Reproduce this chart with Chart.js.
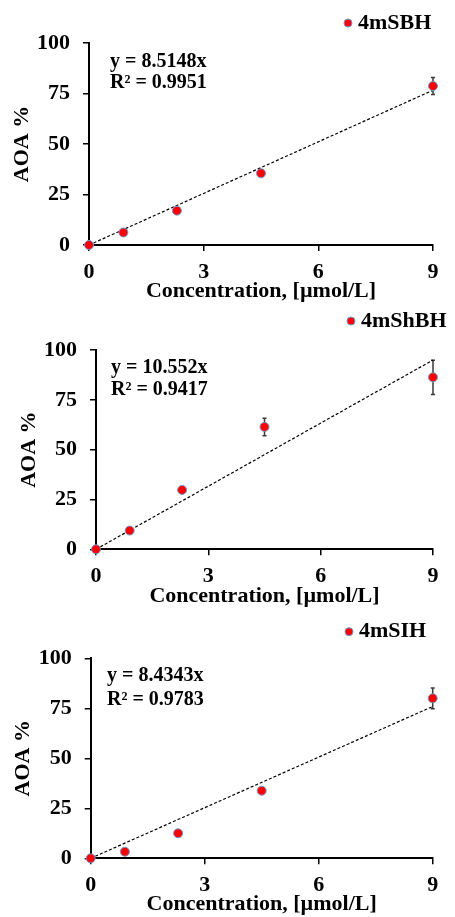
<!DOCTYPE html>
<html>
<head>
<meta charset="utf-8">
<script src="https://cdn.jsdelivr.net/npm/chart.js@4.4.0/dist/chart.umd.min.js"></script>
<style>
  body { margin: 0; background: #fff; }
  canvas { position: absolute; left: 0; }
</style>
</head>
<body>
<canvas id="c1" width="455" height="302" style="top:0px"></canvas>
<canvas id="c2" width="455" height="305" style="top:302px"></canvas>
<canvas id="c3" width="455" height="308" style="top:607px"></canvas>
<script>
// Data
const concentrations = [0, 0.9, 2.3, 4.5, 9];
const seriesNames = ['4mSBH', '4mShBH', '4mSIH'];
const aoa4mSBH = [0, 6.2, 17.0, 35.5, 78.7];
const err4mSBH = [0, 0, 0, 0, 4.2];
const aoa4mShBH = [0, 9.4, 29.8, 61.4, 86.3];
const err4mShBH = [0, 0, 0, 4.4, 8.6];
const aoa4mSIH = [0, 3.3, 12.5, 33.8, 80.0];
const err4mSIH = [0, 0, 0, 0, 5.2];
const slopes = ['8.5148', '10.552', '8.4343'];
const r2Values = ['0.9951', '0.9417', '0.9783'];
const xTicks = [0, 3, 6, 9];
const yTicks = [0, 25, 50, 75, 100];

const FONT = "'Liberation Serif', 'Times New Roman', serif";

// panel geometry, canvas-local pixels
const panels = [
    { id: 'c1', height: 302, values: aoa4mSBH, errors: err4mSBH,
      plot: { left: 89, right: 433, top: 43, bottom: 245 }, yTitlePad: 11.5,
      legend: { x: 348, y: 23 }, eq: { x: 110, y1: 62, y2: 83 } },
    { id: 'c2', height: 305, values: aoa4mShBH, errors: err4mShBH,
      plot: { left: 96, right: 433, top: 48, bottom: 247.3 }, yTitlePad: 18,
      legend: { x: 351, y: 19 }, eq: { x: 111, y1: 66, y2: 88 } },
    { id: 'c3', height: 308, values: aoa4mSIH, errors: err4mSIH,
      plot: { left: 90.7, right: 432.7, top: 51.3, bottom: 251.3 }, yTitlePad: 12.7,
      legend: { x: 349, y: 24.7 }, eq: { x: 107, y1: 69, y2: 93 } },
];

const errorBars = {
    id: 'errorBars',
    beforeDatasetsDraw(chart, args, opts) {
        const { ctx, scales: { x, y } } = chart;
        const vals = chart.data.datasets[0].data;
        ctx.save();
        ctx.strokeStyle = '#3a3a3a';
        ctx.lineWidth = 1.5;
        opts.errors.forEach((e, i) => {
            if (!e) return;
            const px = x.getPixelForValue(vals[i].x);
            const top = y.getPixelForValue(vals[i].y + e);
            const bot = y.getPixelForValue(vals[i].y - e);
            ctx.beginPath();
            ctx.moveTo(px, top); ctx.lineTo(px, bot);
            ctx.moveTo(px - 2, top); ctx.lineTo(px + 2, top);
            ctx.moveTo(px - 2, bot); ctx.lineTo(px + 2, bot);
            ctx.stroke();
        });
        ctx.restore();
    }
};

const annotations = {
    id: 'annotations',
    afterDraw(chart, args, opts) {
        const ctx = chart.ctx;
        ctx.save();
        // legend
        ctx.beginPath();
        ctx.arc(opts.legend.x, opts.legend.y, 4, 0, Math.PI * 2);
        ctx.fillStyle = '#ff0000';
        ctx.fill();
        ctx.lineWidth = 1;
        ctx.strokeStyle = '#6b9bd1';
        ctx.stroke();
        ctx.fillStyle = '#000';
        ctx.textBaseline = 'middle';
        ctx.textAlign = 'left';
        ctx.font = 'bold 22px ' + FONT;
        ctx.fillText(opts.name, opts.legend.x + 10, opts.legend.y);
        // trendline equation
        ctx.font = 'bold 20px ' + FONT;
        ctx.fillText('y = ' + opts.slope + 'x', opts.eq.x, opts.eq.y1);
        ctx.fillText('R\u00b2 = ' + opts.r2, opts.eq.x, opts.eq.y2);
        ctx.restore();
    }
};

panels.forEach((p, k) => {
    const pts = concentrations.map((c, i) => ({ x: c, y: p.values[i] }));
    const slope = parseFloat(slopes[k]);
    const xMax = xTicks[xTicks.length - 1];
    new Chart(document.getElementById(p.id), {
        type: 'scatter',
        data: {
            datasets: [
                {
                    label: seriesNames[k],
                    data: pts,
                    backgroundColor: '#ff0000',
                    borderColor: '#6b9bd1',
                    borderWidth: 1,
                    pointRadius: 4.5,
                    clip: false,
                },
                {
                    label: 'trend',
                    data: [{ x: 0, y: 0 }, { x: xMax, y: slope * xMax }],
                    showLine: true,
                    borderColor: '#000',
                    borderWidth: 1.2,
                    borderDash: [3, 2],
                    pointRadius: 0,
                    clip: false,
                },
            ],
        },
        options: {
            responsive: false,
            animation: false,
            layout: { padding: { left: 0, right: 455 - p.plot.right, top: p.plot.top, bottom: 0 } },
            plugins: {
                legend: { display: false },
                tooltip: { enabled: false },
                errorBars: { errors: p.errors },
                annotations: { name: seriesNames[k], slope: slopes[k], r2: r2Values[k], legend: p.legend, eq: p.eq },
            },
            scales: {
                x: {
                    type: 'linear',
                    min: 0,
                    max: 9,
                    afterBuildTicks: s => { s.ticks = xTicks.map(v => ({ value: v })); },
                    afterFit: s => { s.height = p.height - p.plot.bottom; },
                    border: { color: '#000', width: 2 },
                    grid: { drawOnChartArea: false, drawTicks: true, tickLength: 6, color: '#000', lineWidth: 1.5 },
                    ticks: { color: '#000', padding: 8, font: { family: FONT, size: 22, weight: 'bold' } },
                    title: {
                        display: true, text: 'Concentration, [\u00b5mol/L]', color: '#000',
                        padding: 0, font: { family: FONT, size: 22, weight: 'bold', lineHeight: 1 }
                    },
                },
                y: {
                    min: 0,
                    max: 100,
                    afterBuildTicks: s => { s.ticks = yTicks.map(v => ({ value: v })); },
                    afterFit: s => { s.width = p.plot.left; },
                    border: { color: '#000', width: 2 },
                    grid: { drawOnChartArea: false, drawTicks: true, tickLength: 6, color: '#000', lineWidth: 1.5 },
                    ticks: { color: '#000', padding: 13, font: { family: FONT, size: 22, weight: 'bold' } },
                    title: {
                        display: true, text: 'AOA %', color: '#000',
                        padding: { top: p.yTitlePad }, font: { family: FONT, size: 22, weight: 'bold', lineHeight: 1 }
                    },
                },
            },
        },
        plugins: [errorBars, annotations],
    });
});
</script>
</body>
</html>
